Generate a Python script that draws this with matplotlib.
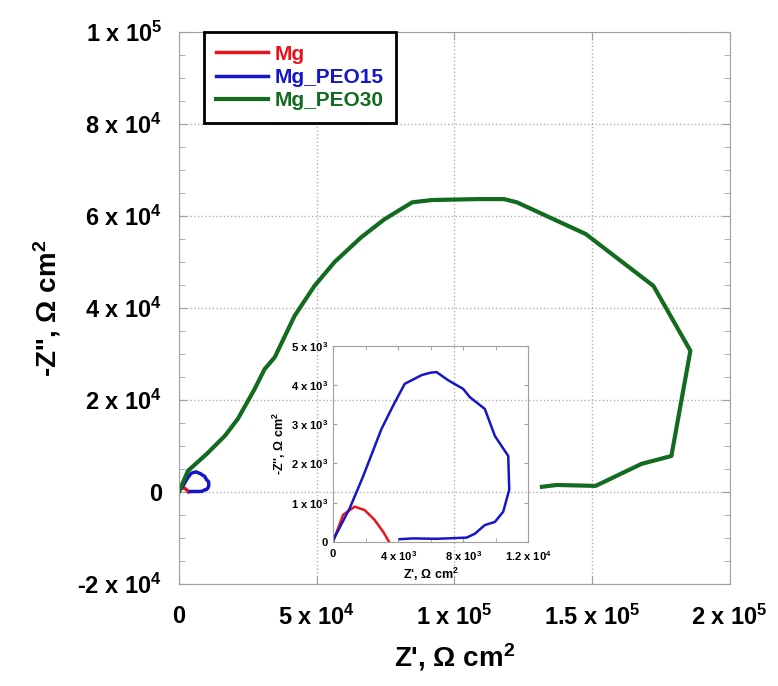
import matplotlib
matplotlib.use('Agg')
import matplotlib.pyplot as plt
from matplotlib.ticker import MultipleLocator

plt.rcParams['font.family'] = ['Liberation Sans', 'DejaVu Sans']
plt.rcParams['font.weight'] = 'bold'
plt.rcParams['mathtext.default'] = 'regular'

# Nyquist data (Z', -Z'') in ohm cm2
mg_zre = [0, 620, 1330, 1950, 2560, 3080, 3450]
mg_zim = [0, 690, 900, 810, 560, 260, 0]

peo15_zre = [0, 1030, 1850, 2970, 3690, 4410, 5440, 5950, 6360, 7080, 8000,
             8410, 9330, 9950, 10770, 10830, 10460, 9950, 9330, 8720, 8210,
             6360, 4920, 4100]
peo15_zim = [40, 860, 1670, 2870, 3470, 4030, 4250, 4310, 4330, 4120, 3900,
             3690, 3390, 2700, 2190, 1330, 770, 510, 430, 210, 110,
             80, 90, 70]

peo30_zre = [0, 3260, 10100, 16700, 21400, 27500, 31100, 34800, 42000, 49200,
             56500, 66200, 74600, 84700, 92000, 109000, 118000, 122700, 147700,
             172300, 185700, 178800, 168000, 151300, 137200, 131800]
peo30_zim = [0, 4570, 8260, 12200, 15900, 22400, 26700, 29300, 38300, 44800,
             50000, 55400, 59300, 63000, 63500, 63700, 63700, 63000, 56100,
             44800, 30700, 7800, 6100, 1300, 1500, 1100]

main_xticks = [0, 5e4, 1e5, 1.5e5, 2e5]
main_xlabels = ['0', '5 x 10$^{4}$', '1 x 10$^{5}$', '1.5 x 10$^{5}$', '2 x 10$^{5}$']
main_yticks = [-2e4, 0, 2e4, 4e4, 6e4, 8e4, 1e5]
main_ylabels = ['-2 x 10$^{4}$', '0', '2 x 10$^{4}$', '4 x 10$^{4}$',
                '6 x 10$^{4}$', '8 x 10$^{4}$', '1 x 10$^{5}$']
ins_xticks = [0, 4e3, 8e3, 1.2e4]
ins_xlabels = ['0', '4 x 10$^{3}$', '8 x 10$^{3}$', '1.2 x 10$^{4}$']
ins_yticks = [0, 1e3, 2e3, 3e3, 4e3, 5e3]
ins_ylabels = ['0', '1 x 10$^{3}$', '2 x 10$^{3}$', '3 x 10$^{3}$',
               '4 x 10$^{3}$', '5 x 10$^{3}$']

red = '#e8141b'
blue = '#1616c8'
green = '#126b1e'
frame = '#a0a0a0'

fig = plt.figure(figsize=(7.78, 6.86), dpi=100)
ax = fig.add_axes([0.230, 0.149, 0.708, 0.804])

ax.plot(mg_zre, mg_zim, color=red, lw=2.5, label='Mg')
ax.plot(peo15_zre, peo15_zim, color=blue, lw=2.5, label='Mg_PEO15')
ax.plot(peo30_zre, peo30_zim, color=green, lw=3, label='Mg_PEO30')

ax.set_xlim(0, 2e5)
ax.set_ylim(-2e4, 1e5)
ax.set_xticks(main_xticks)
ax.set_xticklabels(main_xlabels)
ax.set_yticks(main_yticks)
ax.set_yticklabels(main_ylabels)
ax.yaxis.set_minor_locator(MultipleLocator(5e3))
ax.tick_params(axis='both', which='both', direction='in', color=frame,
               labelsize=17, top=True, right=True)
ax.tick_params(axis='x', pad=15)
ax.tick_params(axis='y', pad=12)
ax.tick_params(which='major', length=6)
ax.tick_params(which='minor', length=4)
for s in ax.spines.values():
    s.set_color(frame)
ax.grid(True, linestyle=':', color='#b0b0b0', lw=1)

ax.set_xlabel("Z', Ω cm$^{2}$", fontsize=20, fontweight='bold', labelpad=8)
ax.set_ylabel("-Z'', Ω cm$^{2}$", fontsize=20, fontweight='bold', labelpad=10)

leg = ax.legend(loc='upper left', bbox_to_anchor=(0.045, 1.0), borderaxespad=0,
                fontsize=15, labelcolor='linecolor', fancybox=False,
                handlelength=2.5, handletextpad=0.3, borderpad=0.6,
                labelspacing=0.2, framealpha=1)
leg.get_frame().set_edgecolor('black')
leg.get_frame().set_linewidth(2)
for t in leg.get_texts():
    t.set_fontweight('bold')

# inset zoom on the low impedance region
ins = fig.add_axes([0.428, 0.210, 0.251, 0.286])
ins.set_facecolor('none')
ins.plot(mg_zre, mg_zim, color=red, lw=1.8)
ins.plot(peo15_zre, peo15_zim, color=blue, lw=1.8)
ins.set_xlim(0, 1.2e4)
ins.set_ylim(0, 5e3)
ins.set_xticks(ins_xticks)
ins.set_xticklabels(ins_xlabels)
ins.xaxis.set_minor_locator(MultipleLocator(2e3))
ins.set_yticks(ins_yticks)
ins.set_yticklabels(ins_ylabels)
ins.tick_params(axis='both', which='both', direction='in', color=frame,
                labelsize=8, top=True, right=True, length=3)
ins.tick_params(axis='x', pad=5)
for s in ins.spines.values():
    s.set_color(frame)
ins.set_xlabel("Z', Ω cm$^{2}$", fontsize=9, fontweight='bold', labelpad=2)
ins.set_ylabel("-Z'', Ω cm$^{2}$", fontsize=9, fontweight='bold', labelpad=2)

fig.savefig('out.png', dpi=100)
